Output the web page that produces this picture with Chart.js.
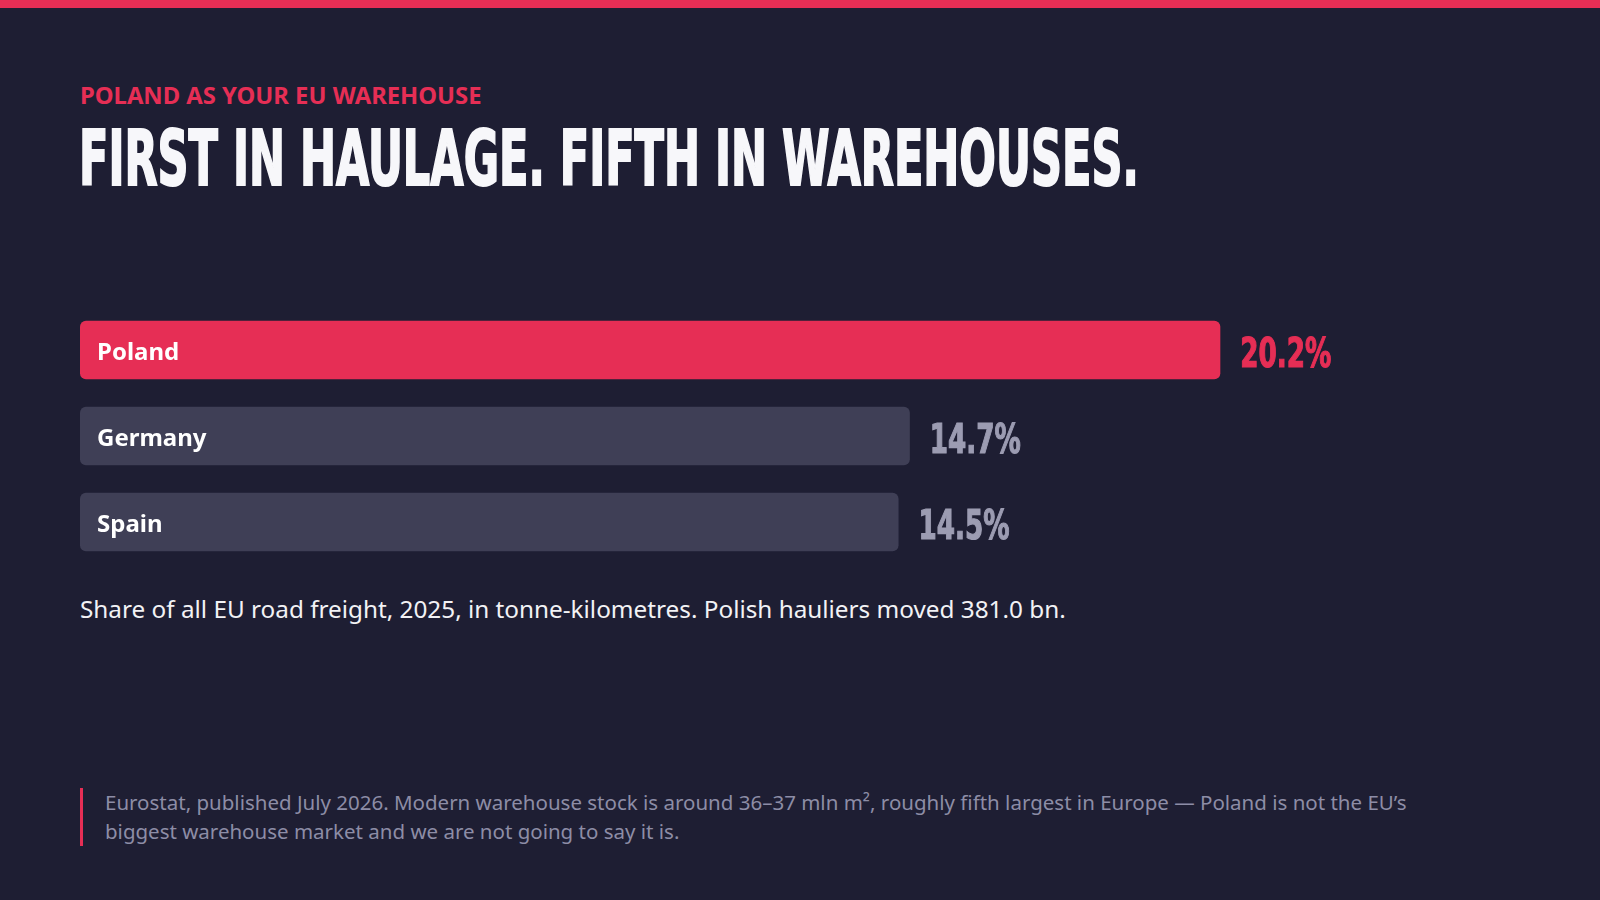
<!DOCTYPE html>
<html>
<head>
<meta charset="utf-8">
<script src="https://cdn.jsdelivr.net/npm/chart.js@4/dist/chart.umd.min.js"></script>
<style>
  body { margin: 0; width: 1600px; height: 900px; background: #1e1e33; font-family: "Noto Sans", "Open Sans", sans-serif; overflow: hidden; position: relative; }
  .topbar { position: absolute; left: 0; top: 0; width: 1600px; height: 8px; background: #e62e55; }
  .kicker { position: absolute; left: 80px; top: 79px; color: #e62e55; font-weight: 700; font-size: 23.8px; }
  .title { position: absolute; left: 79px; top: 114px; color: #f7f7fa; font-family: "DejaVu Sans Condensed", "DejaVu Sans", sans-serif; font-weight: 700; font-size: 76px; white-space: nowrap; transform-origin: left top; -webkit-text-stroke: 2px #f7f7fa; }
  .wrap { position: absolute; left: 80px; top: 307px; width: 1400px; height: 258px; }
  .sub { position: absolute; left: 80px; top: 592px; color: #f2f2f5; font-size: 24.3px; }
  .note { position: absolute; left: 80px; top: 788px; border-left: 3px solid #e62e55; padding-left: 22px; color: #8d8da6; font-size: 20.5px; line-height: 29px; width: 1330px; }
</style>
</head>
<body>
<div class="topbar"></div>
<div class="kicker">POLAND AS YOUR EU WAREHOUSE</div>
<div class="title" id="title">FIRST IN HAULAGE. FIFTH IN WAREHOUSES.</div>
<div class="wrap"><canvas id="c"></canvas></div>
<div class="sub">Share of all EU road freight, 2025, in tonne-kilometres. Polish hauliers moved 381.0 bn.</div>
<div class="note">Eurostat, published July 2026. Modern warehouse stock is around 36–37 mln m², roughly fifth largest in Europe — Poland is not the EU’s biggest warehouse market and we are not going to say it is.</div>
<script>
const countries = ["Poland", "Germany", "Spain"];
const shares = [20.2, 14.7, 14.5];
const barColors = ["#e62e55", "#3f3f56", "#3f3f56"];
const valueColors = ["#e62e55", "#9c9cb2", "#9c9cb2"];

// squeeze the title to the condensed width of the original
const t = document.getElementById("title");
t.style.transform = "scaleX(" + (1060 / t.scrollWidth) + ")";

const valueFont = "700 41px 'DejaVu Sans Condensed', 'DejaVu Sans', sans-serif";

const labelPlugin = {
  id: "labels",
  afterDatasetsDraw(chart) {
    const ctx = chart.ctx;
    ctx.save();
    ctx.font = valueFont;
    const squeeze = 91 / ctx.measureText("20.2%").width;
    ctx.restore();
    chart.getDatasetMeta(0).data.forEach((bar, i) => {
      ctx.save();
      ctx.textBaseline = "middle";
      ctx.fillStyle = "#ffffff";
      ctx.font = "700 24px 'Noto Sans', sans-serif";
      ctx.fillText(countries[i], bar.base + 17, bar.y + 3);
      ctx.fillStyle = valueColors[i];
      ctx.strokeStyle = valueColors[i];
      ctx.lineWidth = 1.2;
      ctx.font = valueFont;
      ctx.translate(bar.x + 20, bar.y + 6);
      ctx.scale(squeeze, 1);
      const txt = shares[i].toFixed(1) + "%";
      ctx.fillText(txt, 0, 0);
      ctx.strokeText(txt, 0, 0);
      ctx.restore();
    });
  }
};

new Chart(document.getElementById("c"), {
  type: "bar",
  data: {
    labels: countries,
    datasets: [{ data: shares, backgroundColor: barColors, borderRadius: 6, borderSkipped: false,
      categoryPercentage: 0.68, barPercentage: 1 }]
  },
  options: {
    indexAxis: "y",
    responsive: true,
    maintainAspectRatio: false,
    animation: false,
    layout: { padding: 0 },
    plugins: { legend: { display: false }, tooltip: { enabled: false } },
    scales: {
      x: { display: false, min: 0, max: 24.8 },
      y: { display: false }
    }
  },
  plugins: [labelPlugin]
});
</script>
</body>
</html>
